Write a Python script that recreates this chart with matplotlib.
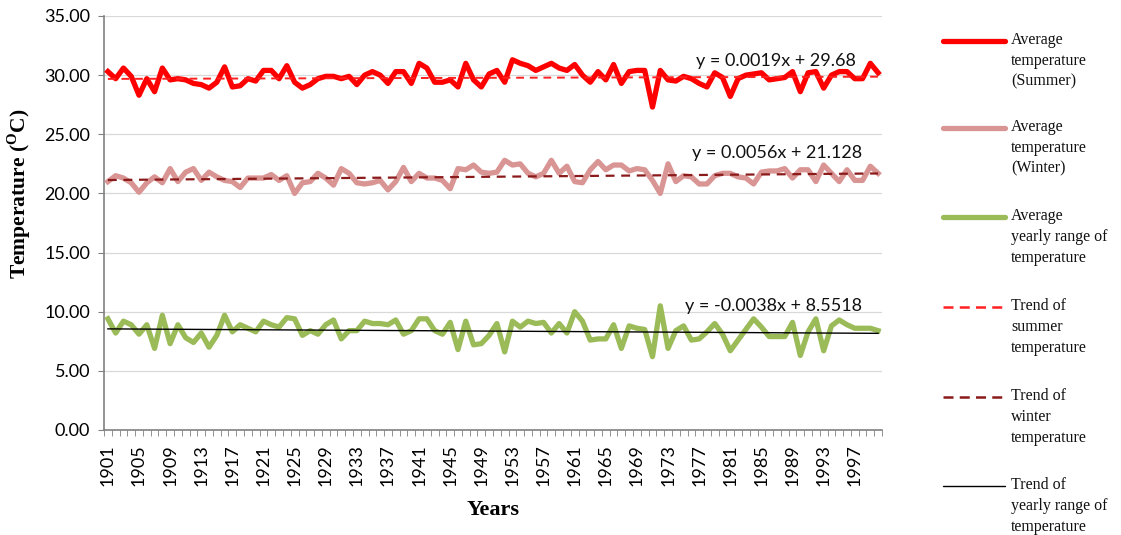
import matplotlib
matplotlib.use("Agg")
import matplotlib.pyplot as plt
from matplotlib.lines import Line2D
import numpy as np

# ---- data -------------------------------------------------------------
years = list(range(1901, 2001))

summer = [30.3, 29.7, 30.6, 29.9, 28.3, 29.7, 28.6, 30.6, 29.6, 29.7,
          29.6, 29.3, 29.2, 28.9, 29.4, 30.7, 29.0, 29.1, 29.7, 29.5,
          30.4, 30.4, 29.7, 30.8, 29.4, 28.9, 29.2, 29.7, 29.9, 29.9,
          29.7, 29.9, 29.2, 30.0, 30.3, 30.0, 29.3, 30.3, 30.3, 29.3,
          31.0, 30.6, 29.4, 29.4, 29.6, 29.0, 31.0, 29.6, 29.0, 30.1,
          30.4, 29.4, 31.3, 31.0, 30.8, 30.4, 30.7, 31.0, 30.6, 30.4,
          30.9, 30.0, 29.4, 30.3, 29.6, 30.9, 29.3, 30.3, 30.4, 30.4,
          27.3, 30.4, 29.6, 29.5, 29.9, 29.7, 29.3, 29.0, 30.2, 29.8,
          28.2, 29.7, 30.0, 30.1, 30.2, 29.6, 29.7, 29.8, 30.3, 28.6,
          30.2, 30.3, 28.9, 30.0, 30.3, 30.3, 29.7, 29.7, 31.0, 30.2]

winter = [21.0, 21.5, 21.3, 20.9, 20.1, 20.9, 21.4, 20.9, 22.1, 21.0,
          21.8, 22.1, 21.1, 21.8, 21.4, 21.1, 21.0, 20.5, 21.3, 21.3,
          21.3, 21.6, 21.1, 21.5, 20.0, 20.9, 21.0, 21.7, 21.3, 20.7,
          22.1, 21.7, 20.9, 20.8, 20.9, 21.1, 20.3, 21.0, 22.2, 21.0,
          21.7, 21.3, 21.3, 21.1, 20.4, 22.1, 22.0, 22.4, 21.8, 21.7,
          21.8, 22.8, 22.4, 22.5, 21.7, 21.4, 21.7, 22.8, 21.7, 22.3,
          21.0, 20.9, 22.0, 22.7, 22.0, 22.4, 22.4, 21.9, 22.1, 22.0,
          21.1, 20.0, 22.5, 21.0, 21.5, 21.4, 20.8, 20.8, 21.5, 21.7,
          21.7, 21.4, 21.3, 20.8, 21.8, 21.9, 21.9, 22.1, 21.3, 22.0,
          22.0, 21.0, 22.4, 21.7, 21.0, 22.0, 21.1, 21.1, 22.3, 21.7]

yearly_range = [9.4, 8.2, 9.2, 8.9, 8.1, 8.9, 6.9, 9.7, 7.3, 8.9,
                7.8, 7.4, 8.2, 7.0, 8.0, 9.7, 8.3, 8.9, 8.6, 8.3,
                9.2, 8.9, 8.7, 9.5, 9.4, 8.0, 8.4, 8.1, 8.9, 9.3,
                7.7, 8.4, 8.4, 9.2, 9.0, 9.0, 8.9, 9.3, 8.1, 8.4,
                9.4, 9.4, 8.4, 8.1, 9.1, 6.8, 9.2, 7.2, 7.3, 8.0,
                9.0, 6.6, 9.2, 8.7, 9.2, 9.0, 9.1, 8.2, 9.0, 8.2,
                10.0, 9.2, 7.6, 7.7, 7.7, 8.9, 6.9, 8.8, 8.6, 8.5,
                6.2, 10.5, 6.9, 8.4, 8.8, 7.6, 7.7, 8.3, 9.0, 8.1,
                6.7, 7.6, 8.5, 9.4, 8.7, 7.9, 7.9, 7.9, 9.1, 6.3,
                8.3, 9.4, 6.7, 8.8, 9.3, 8.9, 8.6, 8.6, 8.6, 8.4]

# linear trend coefficients (x = 1 .. n)
summer_fit = (0.0019, 29.68)
winter_fit = (0.0056, 21.128)
range_fit = (-0.0038, 8.5518)

y_ticks = [0, 5, 10, 15, 20, 25, 30, 35]

# ---- styling ----------------------------------------------------------
c_summer = "#FF0000"
c_winter = "#D99594"
c_range = "#9BBB59"
c_tr_summer = "#FF2020"
c_tr_winter = "#8B1A1A"
c_tr_range = "#000000"

plt.rcParams["mathtext.fontset"] = "custom"
plt.rcParams["mathtext.rm"] = "Liberation Serif:bold"
plt.rcParams["mathtext.bf"] = "Liberation Serif:bold"

W, H = 1121, 535
fig = plt.figure(figsize=(W / 100, H / 100), dpi=100)
ax = fig.add_axes([104 / W, 1 - 430 / H, 778 / W, 414 / H])

x = np.arange(1, len(years) + 1)

ax.plot(x, summer, color=c_summer, lw=3.8, solid_joinstyle="round", zorder=3)
ax.plot(x, winter, color=c_winter, lw=3.8, solid_joinstyle="round", zorder=3)
ax.plot(x, yearly_range, color=c_range, lw=3.8, solid_joinstyle="round", zorder=3)

xs = np.array([x[0], x[-1]])
ax.plot(xs, summer_fit[0] * xs + summer_fit[1], color=c_tr_summer, lw=1.4,
        ls=(0, (4, 3)), zorder=4)
ax.plot(xs, winter_fit[0] * xs + winter_fit[1], color=c_tr_winter, lw=1.6,
        ls=(0, (4, 3)), zorder=4)
ax.plot(xs, range_fit[0] * xs + range_fit[1], color=c_tr_range, lw=1.0, zorder=4)

eq_font = dict(family="Lato", fontsize=13, color="#111111", ha="right", va="center")


def eq_text(fit):
    a, b = fit
    sign = "-" if a < 0 else ""
    return f"y = {sign}{abs(a):.4f}x + {b:g}"


ax.text(97.2, 31.2, eq_text(summer_fit), **eq_font, zorder=5)
ax.text(97.9, 23.4, eq_text(winter_fit), **eq_font, zorder=5)
ax.text(97.9, 10.5, eq_text(range_fit), **eq_font, zorder=5)

# axes
ax.set_xlim(0.5, len(years) + 0.5)
ax.set_ylim(0, 35)
ax.set_yticks(y_ticks)
ax.set_yticklabels([f"{v:.2f}" for v in y_ticks], family="Lato", fontsize=13)
ax.yaxis.grid(True, color="#D9D9D9", lw=0.9)
ax.set_axisbelow(True)

label_pos = x[::4]
ax.set_xticks(label_pos)
ax.set_xticklabels([str(years[i - 1]) for i in label_pos], rotation=90,
                   family="Lato", fontsize=13)
ax.set_xticks(np.arange(0.5, len(years) + 1), minor=True)
ax.tick_params(axis="x", which="major", length=0, pad=10)
ax.tick_params(axis="x", which="minor", length=4, color="#808080", direction="out")
ax.tick_params(axis="y", length=4, color="#808080", pad=6)

for s in ("top", "right"):
    ax.spines[s].set_visible(False)
for s in ("left", "bottom"):
    ax.spines[s].set_color("#808080")
    ax.spines[s].set_linewidth(1.2)

ax.set_ylabel(r"Temperature ($^{\mathrm{O}}$C)", family="Liberation Serif",
              fontweight="bold", fontsize=15.5)
ax.yaxis.set_label_coords(-0.091, 0.57)
ax.set_xlabel("Years", family="Liberation Serif", fontweight="bold",
              fontsize=16, labelpad=10)

# ---- legend (handles aligned with the first line of each label) ---------
legend_items = [
    (c_summer, "-", 3.8, "Average\ntemperature\n(Summer)", 41),
    (c_winter, "-", 3.8, "Average\ntemperature\n(Winter)", 128),
    (c_range, "-", 3.8, "Average\nyearly range of\ntemperature", 217),
    (c_tr_summer, (0, (4, 2.5)), 1.8, "Trend of\nsummer\ntemperature", 307),
    (c_tr_winter, (0, (4, 2.5)), 1.8, "Trend of\nwinter\ntemperature", 397),
    (c_tr_range, "-", 1.0, "Trend of\nyearly range of\ntemperature", 486),
]
for color, ls, lw, text, yp in legend_items:
    fy = 1 - yp / H
    fig.add_artist(Line2D([943 / W, 1005 / W], [fy, fy], color=color, ls=ls,
                          lw=lw, solid_capstyle="round", transform=fig.transFigure))
    fig.text(1011 / W, 1 - (yp - 9) / H, text, family="Liberation Serif",
             fontsize=11.5, va="top", ha="left", linespacing=1.4, color="#111111")

fig.savefig("out.png", dpi=100, facecolor="white")
